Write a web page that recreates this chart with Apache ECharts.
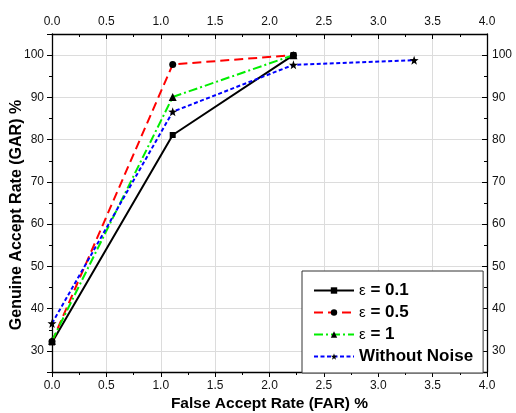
<!DOCTYPE html>
<html>
<head>
<meta charset="utf-8">
<script src="https://cdn.jsdelivr.net/npm/echarts@6/dist/echarts.min.js"></script>
<style>html,body{margin:0;padding:0;background:#fff}#c{width:516px;height:413px}</style>
</head>
<body>
<div id="c"></div>
<script>
const seriesNames = ['ε = 0.1', 'ε = 0.5', 'ε = 1', 'Without Noise'];
const farEps01 = [0, 1.11, 2.22];
const garEps01 = [32, 81.1, 100];
const farEps05 = [0, 1.11, 2.22];
const garEps05 = [32.2, 97.8, 100];
const farEps1 = [0, 1.11, 2.22];
const garEps1 = [32.4, 90.1, 100];
const farNoNoise = [0, 1.11, 2.22, 3.33];
const garNoNoise = [36.5, 86.6, 97.7, 98.8];
const xTicks = [0, 0.5, 1, 1.5, 2, 2.5, 3, 3.5, 4];
const yTicks = [30, 40, 50, 60, 70, 80, 90, 100];

const pairs = (xs, ys) => xs.map((x, i) => [x, ys[i]]);
const star = 'path://M0,-10L2.35,-3.24L9.51,-3.09L3.8,1.24L5.88,8.09L0,4.1L-5.88,8.09L-3.8,1.24L-9.51,-3.09L-2.35,-3.24Z';
const font = 'Liberation Sans, Arial, sans-serif';

const chart = echarts.init(document.getElementById('c'), null, {renderer: 'canvas'});

const xBase = (pos) => ({
  type: 'value', position: pos, min: 0, max: 4, interval: 0.5,
  axisLine: {show: true, onZero: false, lineStyle: {color: '#000', width: 1.3}},
  axisTick: {show: true, inside: pos === 'top', length: 5, lineStyle: {color: '#000'}},
  minorTick: {show: true, splitNumber: 2, length: 3, lineStyle: {color: '#000'}},
  axisLabel: {show: true, fontSize: 12, fontFamily: font, color: '#111', margin: pos === 'top' ? 6 : 8,
    formatter: v => xTicks.includes(v) ? v.toFixed(1) : ''},
  splitLine: {show: pos === 'bottom', lineStyle: {color: '#dcdcdc', width: 1}}
});

const yMajor = (pos) => ({
  type: 'value', position: pos, min: 25, max: 105, splitNumber: 8,
  axisLine: {show: true, onZero: false, lineStyle: {color: '#000', width: 1.3}},
  axisTick: {show: true, inside: pos === 'right', length: 5, lineStyle: {color: '#000'}},
  axisLabel: {show: true, fontSize: 12, fontFamily: font, color: '#111', margin: pos === 'right' ? 5 : 8,
    formatter: v => yTicks.includes(v) ? String(v) : ''},
  splitLine: {show: pos === 'left', lineStyle: {color: '#dcdcdc', width: 1}}
});
const yMinor = (pos) => ({
  type: 'value', position: pos, min: 25, max: 105, interval: 5,
  axisLine: {show: false, onZero: false},
  axisTick: {show: true, inside: pos === 'right', length: 3, lineStyle: {color: '#000'}},
  axisLabel: {show: false},
  splitLine: {show: false}
});

const xb = xBase('bottom');
xb.name = 'False Accept Rate (FAR) %';
xb.nameLocation = 'middle';
xb.nameGap = 24;
xb.nameMoveOverlap = false;
xb.nameTextStyle = {fontSize: 15.5, fontWeight: 'bold', fontFamily: font, color: '#000'};
const yl = yMajor('left');
yl.name = 'Genuine Accept Rate (GAR) %';
yl.nameLocation = 'middle';
yl.nameGap = 27;
yl.nameMoveOverlap = false;
yl.nameTextStyle = {fontSize: 16, fontWeight: 'bold', fontFamily: font, color: '#000', padding: [0, 24, 0, 0]};

const mkSeries = (name, xs, ys, color, dash, symbol, size) => ({
  name, type: 'line', xAxisIndex: 0, yAxisIndex: 0,
  data: pairs(xs, ys),
  symbol, symbolSize: size,
  clip: true,
  lineStyle: {color, width: 2, type: dash},
  itemStyle: {color: '#000'},
  emphasis: {disabled: true}
});

chart.setOption({
  animation: false,
  backgroundColor: '#fff',
  grid: {left: 52, right: 29, top: 34, bottom: 41, containLabel: false, outerBoundsMode: 'none'},
  xAxis: [xb, xBase('top')],
  yAxis: [yl, yMinor('left'), yMajor('right'), yMinor('right')],
  legend: {
    orient: 'vertical', left: 302, top: 271,
    data: seriesNames,
    backgroundColor: '#fff', borderColor: '#333', borderWidth: 1, borderRadius: 0,
    padding: [11, 10, 8, 11],
    itemGap: 5, itemWidth: 40, itemHeight: 8,
    formatter: n => n.startsWith('ε') ? '{e|ε}{b|' + n.slice(1) + '}' : '{b|' + n + '}',
    textStyle: {
      rich: {
        e: {fontSize: 15, fontFamily: font, color: '#000', fontWeight: 'normal'},
        b: {fontSize: 17, fontFamily: font, color: '#000', fontWeight: 'bold'}
      }
    }
  },
  series: [
    mkSeries(seriesNames[0], farEps01, garEps01, '#000000', 'solid', 'rect', 6),
    mkSeries(seriesNames[1], farEps05, garEps05, '#ff0000', [9, 5], 'circle', 7),
    mkSeries(seriesNames[2], farEps1, garEps1, '#00ee00', [9, 3, 2, 3], 'triangle', 8),
    mkSeries(seriesNames[3], farNoNoise, garNoNoise, '#0000ff', [4, 2.5], star, 9)
  ]
});
</script>
</body>
</html>
